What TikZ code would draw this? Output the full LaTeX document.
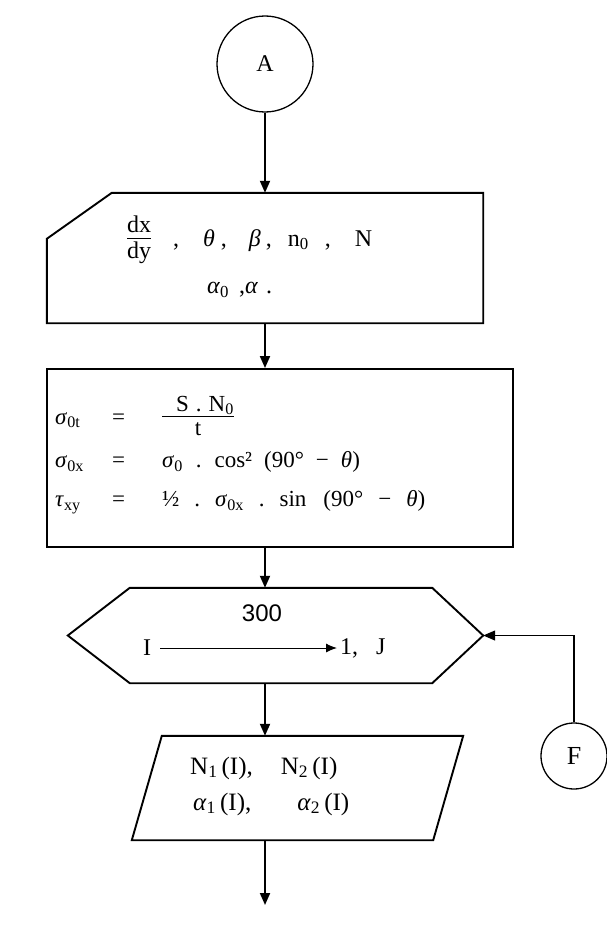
\documentclass[tikz,border=0pt]{standalone}
\usepackage{fontspec}
\setmainfont{Liberation Serif}
\newfontfamily\numfont{Liberation Sans}
\usetikzlibrary{arrows.meta}

\begin{document}
\begin{tikzpicture}[x=1pt, y=-1pt,
    outline/.style={line width=1.9pt, line join=miter},
    flow/.style={line width=1.9pt, -{Triangle[length=12pt, width=10pt]}},
    conn/.style={draw, circle, line width=1.3pt, inner sep=0pt},
    frame/.style={inner sep=0pt},
    txt/.style={inner sep=0pt, font=\fontsize{24}{28}\selectfont},
    eq/.style={inner sep=0pt, anchor=west, font=\fontsize{23}{27}\selectfont}]
    \useasboundingbox (0,0) rectangle (606,942);

    \node[conn, minimum size=96pt, font=\fontsize{24}{28}\selectfont] (A) at (265,64) {A};

    \node[frame, minimum width=436pt, minimum height=130pt] (inp) at (265,258) {};
    \draw[outline] ([yshift=-46pt]inp.north west) -- ([xshift=65pt]inp.north west) -- (inp.north east)
        -- (inp.south east) -- (inp.south west) -- cycle;
    \node[txt, anchor=west] (in1) at (127,240) {\begin{tabular}{@{}c@{}}dx\\[-3pt]\hline dy\end{tabular}\hspace{22pt},\hspace{24pt}\textit{θ}\hspace{6pt},\hspace{22pt}\textit{β}\hspace{5pt},\hspace{16pt}n\textsubscript{0}\hspace{16pt},\hspace{24pt}N};
    \node[txt, anchor=west] (in2) at (207,290) {\textit{α}\textsubscript{0}\hspace{10pt},\textit{α}\hspace{8pt}.};

    \node[outline, draw, frame, minimum width=466pt, minimum height=178pt] (stress) at (280,458) {};
    \node[eq] (r1) at (55,418) {\makebox[57pt][l]{\textit{σ}\textsubscript{0t}}\makebox[50pt][l]{=}\begin{tabular}{@{}c@{}}\hspace{14pt}S\hspace{7pt}.\hspace{7pt}N\textsubscript{0}\hspace{10pt}\\[-3pt]\hline t\end{tabular}};
    \node[eq] (r2) at (55,462) {\makebox[57pt][l]{\textit{σ}\textsubscript{0x}}\makebox[50pt][l]{=}\textit{σ}\textsubscript{0}\hspace{13pt}.\hspace{13pt}cos²\hspace{12pt}(90°\hspace{12pt}−\hspace{12pt}\textit{θ})};
    \node[eq] (r3) at (55,502) {\makebox[57pt][l]{\textit{τ}\textsubscript{xy}}\makebox[50pt][l]{=}½\hspace{15pt}.\hspace{15pt}\textit{σ}\textsubscript{0x}\hspace{15pt}.\hspace{15pt}sin\hspace{17pt}(90°\hspace{15pt}−\hspace{15pt}\textit{θ})};

    \node[frame, minimum width=302pt, minimum height=95pt] (loop) at (281,635.5) {};
    \coordinate (looptip) at ([xshift=51pt]loop.east);
    \draw[outline] ([xshift=-62pt]loop.west) -- (loop.north west) -- (loop.north east) -- (looptip)
        -- (loop.south east) -- (loop.south west) -- cycle;
    \node[inner sep=0pt, font=\numfont\fontsize{24}{28}\selectfont] (cnt) at (262,613) {300};
    \node[txt] (vI) at (147,648) {I};
    \node[txt, anchor=west] (vJ) at (340,648) {1,\hspace{18pt}J};
    \draw[line width=1pt, -{Latex[length=11pt, width=9pt]}] ([xshift=9pt]vI.east) -- ([xshift=-3pt]vJ.west);

    \node[frame, minimum width=301pt, minimum height=104pt] (rd) at (297.5,788) {};
    \draw[outline] ([xshift=15pt]rd.north west) -- ([xshift=15pt]rd.north east) -- ([xshift=-15pt]rd.south east)
        -- ([xshift=-15pt]rd.south west) -- cycle;
    \node[txt, anchor=west, font=\fontsize{25}{29}\selectfont] (n12) at (190,768) {N\textsubscript{1}\,(I),\hspace{28pt}N\textsubscript{2}\,(I)};
    \node[txt, anchor=west, font=\fontsize{25}{29}\selectfont] (a12) at (193,804) {\textit{α}\textsubscript{1}\,(I),\hspace{46pt}\textit{α}\textsubscript{2}\,(I)};

    \node[conn, minimum size=66pt, font=\fontsize{26}{30}\selectfont] (F) at (574,756) {F};
    \coordinate (out) at (265,905);

    \draw[flow] (A) -- (inp.north -| A);
    \draw[flow] (inp.south -| A) -- (stress.north -| A);
    \draw[flow] (stress.south -| A) -- (loop.north -| A);
    \draw[flow] (loop.south -| A) -- (rd.north -| A);
    \draw[flow] (rd.south -| out) -- (out);
    \draw[line width=1.2pt, -{Triangle[length=12pt, width=10pt]}] (F.north) |- (looptip);
\end{tikzpicture}
\end{document}
